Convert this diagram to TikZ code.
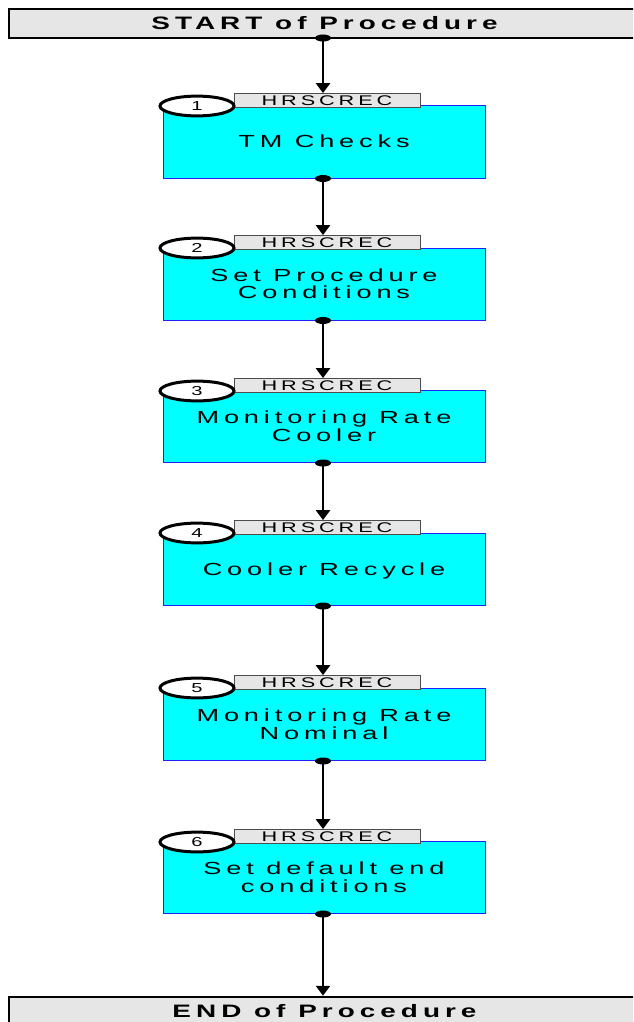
\documentclass[tikz,border=0pt]{standalone}
\usepackage{fontspec}
\usepackage{graphicx}
\setmainfont{Liberation Sans}
\newfontfamily\wideface[LetterSpace=18]{Liberation Sans}
\newcommand{\widetxt}[1]{\raisebox{-2pt}[\height][\depth]{\scalebox{1.55}[1]{\begin{tabular}{@{}c@{}}#1\end{tabular}}}}
\usetikzlibrary{arrows.meta,shapes.geometric}
\definecolor{tagGray}{HTML}{E6E6E6}
\definecolor{boxCyan}{HTML}{00FFFF}
\definecolor{boxBlue}{HTML}{2020FF}
\tikzset{
  endbox/.style={draw=black, line width=2.5pt, fill=tagGray, minimum width=631pt, minimum height=29pt, inner sep=0pt, font=\wideface\bfseries\fontsize{18pt}{20pt}\selectfont},
  stepbox/.style={draw=boxBlue, line width=1pt, fill=boxCyan, minimum width=322pt, minimum height=72pt, inner sep=0pt, align=center, font=\wideface\fontsize{17.5pt}{16.5pt}\selectfont},
  tagbox/.style={draw=black!70, line width=0.8pt, fill=tagGray, minimum width=186pt, minimum height=11pt, inner sep=0pt, font=\wideface\fontsize{14pt}{14pt}\selectfont},
  numell/.style={ellipse, draw=black, line width=3pt, fill=white, minimum width=74pt, minimum height=14pt, inner sep=0pt, font=\wideface\fontsize{13pt}{14pt}\selectfont},
  flow/.style={line width=2.8pt, -{Triangle[width=14pt,length=10pt]}},
  dotmark/.style={ellipse, fill=black, minimum width=16pt, minimum height=7pt, inner sep=0pt}
}
\begin{document}
\begin{tikzpicture}[x=1pt,y=-1pt]
\useasboundingbox (0,0) rectangle (633,1022);
\begin{scope}
\clip (0,0) rectangle (633,1022);
\node[endbox] (start) at (324.5,23.5) {\widetxt{START of Procedure}};
\node[endbox] (end) at (324.5,1011.5) {\widetxt{END of Procedure}};
\end{scope}

\node[stepbox] (b1) at (324,142) {\widetxt{TM Checks}};
\node[tagbox] (t1) at (327,100.5) {\widetxt{HRSCREC}};
\node[numell] (n1) at (197,106) {\widetxt{1}};

\node[stepbox] (b2) at (324,284) {\widetxt{Set Procedure\\Conditions}};
\node[tagbox] (t2) at (327,242.5) {\widetxt{HRSCREC}};
\node[numell] (n2) at (197,248) {\widetxt{2}};

\node[stepbox] (b3) at (324,426.5) {\widetxt{Monitoring Rate\\Cooler}};
\node[tagbox] (t3) at (327,385.5) {\widetxt{HRSCREC}};
\node[numell] (n3) at (197,391) {\widetxt{3}};

\node[stepbox] (b4) at (324,569.5) {\widetxt{Cooler Recycle}};
\node[tagbox] (t4) at (327,527.5) {\widetxt{HRSCREC}};
\node[numell] (n4) at (197,533) {\widetxt{4}};

\node[stepbox] (b5) at (324,724.5) {\widetxt{Monitoring Rate\\Nominal}};
\node[tagbox] (t5) at (327,682.5) {\widetxt{HRSCREC}};
\node[numell] (n5) at (197,688) {\widetxt{5}};

\node[stepbox] (b6) at (324,877.5) {\widetxt{Set default end\\conditions}};
\node[tagbox] (t6) at (327,836.5) {\widetxt{HRSCREC}};
\node[numell] (n6) at (197,842) {\widetxt{6}};

\coordinate (s0) at (323,38);
\draw[flow] (s0) -- (s0 |- t1.north);
\foreach \a/\b in {b1/t2,b2/t3,b3/t4,b4/t5,b5/t6}{
  \coordinate (p) at ([xshift=-1pt]\a.south);
  \draw[flow] (p) -- (p |- \b.north);
}
\coordinate (p6) at ([xshift=-1pt]b6.south);
\draw[flow] (p6) -- (p6 |- end.north);

\node[dotmark] (d0) at (s0) {};
\foreach \a in {b1,b2,b3,b4,b5,b6}{
  \node[dotmark] at ([xshift=-1pt]\a.south) {};
}
\end{tikzpicture}
\end{document}
